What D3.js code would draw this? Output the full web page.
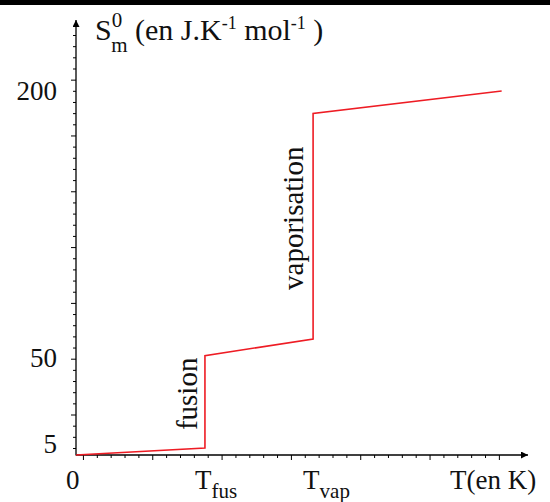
<!DOCTYPE html>
<html>
<head>
<meta charset="utf-8">
<script src="https://cdn.jsdelivr.net/npm/d3@7"></script>
<style>
  body { margin: 0; background: #fff; }
  svg { display: block; font-family: "Liberation Serif", "DejaVu Serif", serif; }
</style>
</head>
<body>
<svg id="chart" width="550" height="502"></svg>
<script>
// curve points: temperature (arbitrary K units) and molar entropy
let temps = [0, 93, 93, 171, 171, 307];
let entropy = [0, 3.1, 51, 60, 187, 200];

// axis labels
let yTickValues = [5, 50, 200];
let xTickValues = [0, 93, 171];
let xTickNames = ['0', 'T', 'T'];
let xTickSubs = ['', 'fus', 'vap'];

// phase change annotations
let stepNames = ['fusion', 'vaporisation'];
let stepTemps = [93, 171];
let stepLow = [3.1, 60];
let stepHigh = [51, 187];

let svg = d3.select('#chart');

// black strip at the very top of the picture
svg.append('rect')
  .attr('x', 0).attr('y', 0)
  .attr('width', 550).attr('height', 5)
  .attr('fill', '#000');

let x = d3.scaleLinear()
  .domain([0, 326])
  .range([76, 528]);

let y = d3.scalePow()
  .exponent(0.95)
  .domain([0, 200])
  .range([455, 91]);

// evenly spaced graduation along the y axis
let yRuler = d3.scaleLinear()
  .domain([0, 37])
  .range([448, 35]);

let defs = svg.append('defs');
defs.append('marker')
  .attr('id', 'arrow')
  .attr('viewBox', '0 0 10 10')
  .attr('refX', 10)
  .attr('refY', 5)
  .attr('markerWidth', 9)
  .attr('markerHeight', 7)
  .attr('markerUnits', 'userSpaceOnUse')
  .attr('orient', 'auto')
  .append('path')
  .attr('d', 'M0,0L10,5L0,10z')
  .attr('fill', '#000');

// graduations
let xMinor = d3.range(5, 306, 10);
svg.append('g')
  .attr('transform', 'translate(0,' + y(0) + ')')
  .call(d3.axisBottom(x)
    .tickValues(xMinor.filter(v => (v - 5) % 50 != 0))
    .tickSize(3).tickFormat(''))
  .call(g => g.select('.domain').remove());
svg.append('g')
  .attr('transform', 'translate(0,' + y(0) + ')')
  .call(d3.axisBottom(x)
    .tickValues(xMinor.filter(v => (v - 5) % 50 == 0))
    .tickSize(5).tickFormat(''))
  .call(g => g.select('.domain').remove());

let yMinor = d3.range(0, 38);
svg.append('g')
  .attr('transform', 'translate(' + x(0) + ',0)')
  .call(d3.axisLeft(yRuler)
    .tickValues(yMinor.filter(i => (i - 3) % 5 != 0))
    .tickSize(3).tickFormat(''))
  .call(g => g.select('.domain').remove());
svg.append('g')
  .attr('transform', 'translate(' + x(0) + ',0)')
  .call(d3.axisLeft(yRuler)
    .tickValues(yMinor.filter(i => (i - 3) % 5 == 0))
    .tickSize(5).tickFormat(''))
  .call(g => g.select('.domain').remove());

// axis lines with arrows
svg.append('line')
  .attr('x1', x(0)).attr('y1', y(0))
  .attr('x2', x.range()[1]).attr('y2', y(0))
  .attr('stroke', '#000').attr('stroke-width', 1.3)
  .attr('marker-end', 'url(#arrow)');
svg.append('line')
  .attr('x1', x(0)).attr('y1', y(0) + 0.6)
  .attr('x2', x(0)).attr('y2', 20)
  .attr('stroke', '#000').attr('stroke-width', 1.3)
  .attr('marker-end', 'url(#arrow)');

// y labels
svg.append('g')
  .attr('transform', 'translate(' + x(0) + ',0)')
  .call(d3.axisLeft(y).tickValues(yTickValues).tickSize(0).tickPadding(19))
  .call(g => g.select('.domain').remove())
  .attr('font-family', null)
  .attr('font-size', 27)
  .selectAll('text')
  .attr('fill', '#111');

// x labels with subscripts
let xLab = svg.append('g')
  .selectAll('text')
  .data(xTickValues)
  .join('text')
  .attr('x', d => x(d) - 10)
  .attr('y', y(0) + 34)
  .attr('font-size', 27)
  .attr('fill', '#111');
xLab.append('tspan').text((d, i) => xTickNames[i]);
xLab.append('tspan')
  .attr('font-size', 21)
  .attr('dy', 9)
  .text((d, i) => xTickSubs[i]);

svg.append('text')
  .attr('x', 450)
  .attr('y', y(0) + 34)
  .attr('font-size', 27)
  .attr('fill', '#111')
  .text('T(en K)');

// y axis title
let title = svg.append('text')
  .attr('x', 95)
  .attr('y', 40)
  .attr('font-size', 30)
  .attr('fill', '#111');
title.append('tspan').text('S');
title.append('tspan').attr('font-size', 21).attr('dy', -13).text('0');
title.append('tspan').attr('font-size', 21).attr('dx', -11).attr('dy', 25).text('m');
title.append('tspan').attr('dy', -12).text(' (en J.K');
title.append('tspan').attr('font-size', 18).attr('dy', -11).text('-1');
title.append('tspan').attr('dy', 11).text(' mol');
title.append('tspan').attr('font-size', 18).attr('dy', -11).text('-1');
title.append('tspan').attr('dy', 11).text(' )');

// entropy curve
let line = d3.line()
  .x(d => x(d[0]))
  .y(d => y(d[1]));

svg.append('path')
  .datum(temps.map((t, i) => [t, entropy[i]]))
  .attr('d', line)
  .attr('fill', 'none')
  .attr('stroke', '#ee1c24')
  .attr('stroke-width', 1.6);

// labels along the jumps
svg.append('g')
  .selectAll('text')
  .data(stepNames)
  .join('text')
  .attr('transform', (d, i) => {
    let cx = x(stepTemps[i]) - (i == 0 ? 8 : 10);
    let cy = (y(stepLow[i]) + y(stepHigh[i])) / 2 - 8;
    return 'translate(' + cx + ',' + cy + ') rotate(-90)';
  })
  .attr('text-anchor', 'middle')
  .attr('font-size', 29)
  .attr('fill', '#111')
  .text(d => d);
</script>
</body>
</html>
